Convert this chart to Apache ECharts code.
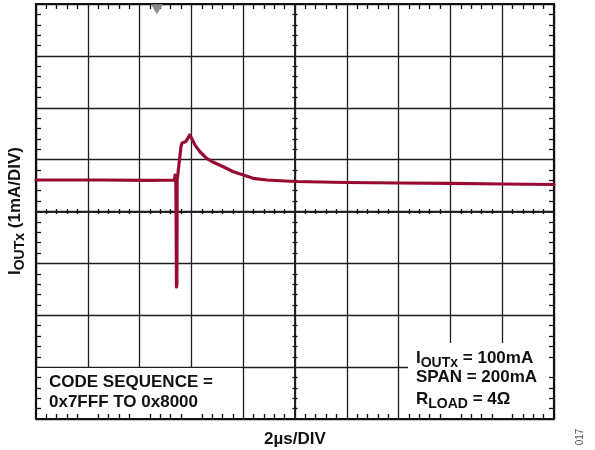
<!DOCTYPE html>
<html>
<head>
<meta charset="utf-8">
<script src="https://cdn.jsdelivr.net/npm/echarts@6/dist/echarts.min.js"></script>
<style>
  html, body { margin: 0; padding: 0; background: #ffffff; }
  #chart { width: 595px; height: 450px; }
</style>
</head>
<body>
<div id="chart"></div>
<script>
// Time relative to screen centre (µs), 2 µs/DIV, 10 divisions
const timeUs = [-10, -7.5, -5.6, -4.66, -4.63, -4.60, -4.575, -4.56, -4.55, -4.48, -4.40, -4.36, -4.21, -4.07, -3.98, -3.86, -3.67, -3.41, -3.15, -2.77, -2.38, -2.00, -1.61, -1.09, 0, 2, 4, 6, 8, 10];
// Output current deviation (mA), 1 mA/DIV, 8 divisions
const currentMa = [0.607, 0.607, 0.600, 0.607, 0.70, 0.62, -1.455, -1.40, 0.60, 0.62, 1.26, 1.32, 1.35, 1.474, 1.40, 1.28, 1.152, 1.025, 0.948, 0.863, 0.767, 0.703, 0.64, 0.607, 0.578, 0.559, 0.549, 0.543, 0.530, 0.520];
const xRange = [-10, 10];
const yRange = [-4, 4];
const triggerTime = -5.33;
const triggerLevel = 3.9;
const xTitle = '2µs/DIV';
const yTitle = '{b|I}{s|OUTx}{b| (1mA/DIV)}';
const codeLines = ['CODE SEQUENCE =', '0x7FFF TO 0x8000'];
const condLines = ['{b|I}{s|OUTx}{b| = 100mA}', '{b|SPAN = 200mA}', '{b|R}{s|LOAD}{b| = 4Ω}'];
const figNo = '017';

const FF = '"Liberation Sans", Arial, Helvetica, sans-serif';
const GRID = { left: 36, top: 4, width: 518, height: 415 };
const lineCol = '#1e1e1e';
const traceCol = '#990a32';

const richSub = {
  b: { fontFamily: FF, fontWeight: 'bold', fontSize: 17, lineHeight: 20, fill: '#111', color: '#111' },
  s: { fontFamily: FF, fontWeight: 'bold', fontSize: 14, lineHeight: 14, padding: [10, 0, 0, 0], fill: '#111', color: '#111' }
};

function pts(xs, ys) { return xs.map((x, i) => [x, ys[i]]); }

function baseAxis(range, interval) {
  return { type: 'value', min: range[0], max: range[1], interval: interval,
    axisLabel: { show: false }, splitLine: { show: false } };
}
function borderAxis(range, interval, position) {
  return Object.assign(baseAxis(range, interval), {
    position: position, z: 3,
    axisLine: { show: true, onZero: false, lineStyle: { color: '#111', width: 2.2 } },
    axisTick: { show: false, inside: true },
    minorTick: { show: true, splitNumber: 5, length: 5, lineStyle: { color: '#111', width: 1.3 } }
  });
}
function centreAxis(range, interval, position, inside) {
  return Object.assign(baseAxis(range, interval), {
    position: position, z: 3,
    axisLine: { show: true, onZero: true, onZeroAxisIndex: 0, lineStyle: { color: lineCol, width: 1.5 } },
    axisTick: { show: false, inside: inside },
    minorTick: { show: true, splitNumber: 5, length: 2.5, lineStyle: { color: '#111', width: 1.3 } }
  });
}

const chart = echarts.init(document.getElementById('chart'), null, { renderer: 'canvas' });

const xAxes = [
  Object.assign(baseAxis(xRange, 2), { z: 0, axisLine: { show: false, onZero: false }, axisTick: { show: false },
    splitLine: { show: true, lineStyle: { color: lineCol, width: 1.3 } } }),
  borderAxis(xRange, 2, 'bottom'),
  borderAxis(xRange, 2, 'top'),
  centreAxis(xRange, 2, 'bottom', true),
  centreAxis(xRange, 2, 'bottom', false)
];
const yAxes = [
  Object.assign(baseAxis(yRange, 1), { z: 0, axisLine: { show: false, onZero: false }, axisTick: { show: false },
    splitLine: { show: true, lineStyle: { color: lineCol, width: 1.3 } } }),
  borderAxis(yRange, 1, 'left'),
  borderAxis(yRange, 1, 'right'),
  centreAxis(yRange, 1, 'left', true),
  centreAxis(yRange, 1, 'left', false)
];

const option = {
  animation: false,
  backgroundColor: '#ffffff',
  grid: Object.assign({ containLabel: false }, GRID),
  xAxis: xAxes,
  yAxis: yAxes,
  series: [{
    type: 'line',
    xAxisIndex: 0, yAxisIndex: 0,
    z: 4,
    data: pts(timeUs, currentMa),
    showSymbol: false,
    symbol: 'none',
    lineStyle: { color: traceCol, width: 3.2, join: 'round', cap: 'round' },
    markPoint: {
      symbol: 'triangle', symbolRotate: 180, symbolSize: [12, 10],
      label: { show: false },
      itemStyle: { color: '#8c8c8c' },
      data: [{ coord: [triggerTime, triggerLevel] }]
    }
  }],
  graphic: [
    // white panels behind annotation text (cover grid lines only)
    { type: 'rect', z: 1, silent: true, shape: { x: 37, y: 368, width: 205, height: 50 }, style: { fill: '#ffffff' } },
    { type: 'rect', z: 1, silent: true, shape: { x: 408, y: 343, width: 145, height: 75 }, style: { fill: '#ffffff' } },
    { type: 'text', z: 5, x: 49, y: 382, style: { text: codeLines[0], font: 'bold 17px ' + FF, fill: '#111', textAlign: 'left', textVerticalAlign: 'middle' } },
    { type: 'text', z: 5, x: 49, y: 402, style: { text: codeLines[1], font: 'bold 17px ' + FF, fill: '#111', textAlign: 'left', textVerticalAlign: 'middle' } },
    { type: 'text', z: 5, x: 416, y: 358, style: { text: condLines[0], rich: richSub, textAlign: 'left', textVerticalAlign: 'middle' } },
    { type: 'text', z: 5, x: 416, y: 377, style: { text: condLines[1], rich: richSub, textAlign: 'left', textVerticalAlign: 'middle' } },
    { type: 'text', z: 5, x: 416, y: 399, style: { text: condLines[2], rich: richSub, textAlign: 'left', textVerticalAlign: 'middle' } },
    { type: 'text', z: 5, x: 295, y: 439, style: { text: xTitle, font: 'bold 17px ' + FF, fill: '#111', textAlign: 'center', textVerticalAlign: 'middle' } },
    { type: 'text', z: 5, x: 15, y: 211, rotation: Math.PI / 2, style: { text: yTitle, rich: richSub, textAlign: 'center', textVerticalAlign: 'middle' } },
    { type: 'text', z: 5, x: 580, y: 437, rotation: Math.PI / 2, style: { text: figNo, font: '10px ' + FF, fill: '#555', textAlign: 'center', textVerticalAlign: 'middle' } }
  ]
};
chart.setOption(option);
</script>
</body>
</html>
